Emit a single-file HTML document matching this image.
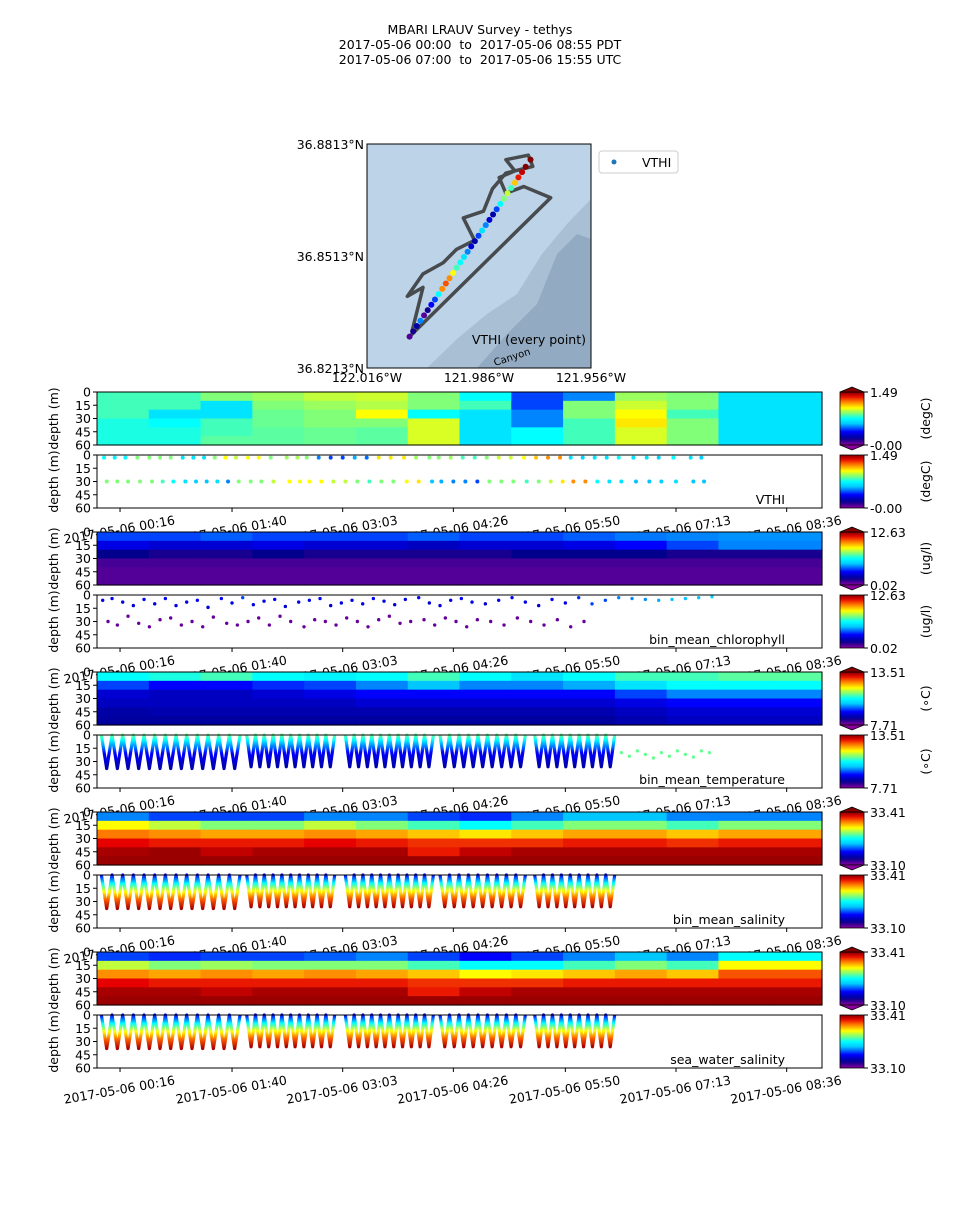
<!DOCTYPE html>
<html><head><meta charset="utf-8">
<style>
body{margin:0;background:#fff;}
svg text{font-family:"DejaVu Sans","Liberation Sans",sans-serif;fill:#000;}
</style></head>
<body>
<svg id="fig" width="960" height="1200" xmlns="http://www.w3.org/2000/svg">
<g>
<text x="480" y="34" font-size="12.5" text-anchor="middle">MBARI LRAUV Survey - tethys</text>
<text x="480" y="49" font-size="12.5" text-anchor="middle" xml:space="preserve">2017-05-06 00:00  to  2017-05-06 08:55 PDT</text>
<text x="480" y="64" font-size="12.5" text-anchor="middle" xml:space="preserve">2017-05-06 07:00  to  2017-05-06 15:55 UTC</text>
</g>
<g id="map"></g>
<g id="ticklabels"></g>
<g id="panels"></g>
</svg>
<script>
// ---------- data ----------
const timeTicks = [16, 100, 183, 266, 350, 433, 516];
const timeTickLabels = ["2017-05-06 00:16","2017-05-06 01:40","2017-05-06 03:03","2017-05-06 04:26","2017-05-06 05:50","2017-05-06 07:13","2017-05-06 08:36"];
const depthTicks = [0, 15, 30, 45, 60];
const variableNames = ["VTHI","bin_mean_chlorophyll","bin_mean_temperature","bin_mean_salinity","sea_water_salinity"];
const unitLabels = ["(degC)","(ug/l)","(\u2218C)","",""];
const cbarMax = ["1.49","12.63","13.51","33.41","33.41"];
const cbarMin = ["-0.00","0.02","7.71","33.10","33.10"];
const vthiField = [
 [0.55,0.55,0.6,0.62,0.65,0.66,0.6,0.5,0.3,0.35,0.62,0.6,0.45,0.45],
 [0.55,0.55,0.45,0.6,0.62,0.64,0.6,0.55,0.3,0.6,0.66,0.6,0.45,0.45],
 [0.55,0.45,0.45,0.58,0.6,0.7,0.5,0.45,0.35,0.6,0.7,0.55,0.45,0.45],
 [0.52,0.5,0.55,0.58,0.6,0.6,0.67,0.45,0.35,0.55,0.72,0.6,0.45,0.45],
 [0.52,0.52,0.55,0.57,0.58,0.57,0.67,0.45,0.5,0.55,0.67,0.6,0.45,0.45],
 [0.52,0.52,0.57,0.57,0.58,0.57,0.67,0.45,0.5,0.55,0.67,0.6,0.45,0.45]];
const chlField = [
 [0.3,0.3,0.32,0.3,0.3,0.3,0.32,0.3,0.3,0.32,0.34,0.35,0.36,0.36],
 [0.22,0.2,0.2,0.22,0.2,0.2,0.18,0.2,0.2,0.22,0.25,0.3,0.35,0.35],
 [0.12,0.1,0.1,0.12,0.1,0.1,0.1,0.1,0.12,0.12,0.12,0.1,0.1,0.1],
 [0.06,0.06,0.06,0.06,0.06,0.06,0.06,0.06,0.06,0.06,0.06,0.06,0.06,0.06],
 [0.05,0.05,0.05,0.05,0.05,0.05,0.05,0.05,0.05,0.05,0.05,0.05,0.05,0.05],
 [0.05,0.05,0.05,0.05,0.05,0.05,0.05,0.05,0.05,0.05,0.05,0.05,0.05,0.05]];
const tempField = [
 [0.5,0.52,0.55,0.5,0.48,0.5,0.55,0.5,0.45,0.5,0.55,0.55,0.57,0.57],
 [0.3,0.25,0.25,0.28,0.3,0.35,0.4,0.35,0.35,0.38,0.45,0.5,0.5,0.5],
 [0.2,0.18,0.18,0.2,0.22,0.25,0.25,0.25,0.25,0.25,0.3,0.35,0.35,0.35],
 [0.18,0.18,0.18,0.18,0.18,0.2,0.2,0.2,0.2,0.2,0.22,0.25,0.25,0.25],
 [0.15,0.16,0.16,0.16,0.16,0.16,0.16,0.16,0.16,0.16,0.18,0.2,0.2,0.2],
 [0.14,0.14,0.14,0.14,0.14,0.14,0.14,0.14,0.14,0.14,0.16,0.18,0.18,0.18]];
const salField = [
 [0.35,0.3,0.3,0.3,0.35,0.35,0.3,0.28,0.35,0.4,0.4,0.35,0.35,0.35],
 [0.7,0.65,0.6,0.6,0.65,0.6,0.55,0.5,0.55,0.6,0.6,0.55,0.6,0.6],
 [0.82,0.8,0.78,0.78,0.8,0.78,0.75,0.72,0.75,0.78,0.78,0.75,0.78,0.78],
 [0.92,0.9,0.9,0.9,0.92,0.9,0.88,0.88,0.88,0.9,0.9,0.88,0.9,0.9],
 [0.97,0.98,0.95,0.97,0.97,0.97,0.9,0.95,0.97,0.97,0.97,0.97,0.97,0.97],
 [0.98,0.98,0.98,0.98,0.98,0.98,0.98,0.98,0.98,0.98,0.98,0.98,0.98,0.98]];
const seaSalField = [
 [0.3,0.28,0.3,0.3,0.32,0.35,0.3,0.25,0.3,0.35,0.4,0.35,0.5,0.5],
 [0.65,0.6,0.62,0.6,0.6,0.6,0.55,0.5,0.5,0.55,0.6,0.55,0.7,0.7],
 [0.8,0.78,0.8,0.78,0.8,0.78,0.75,0.7,0.72,0.75,0.78,0.75,0.85,0.85],
 [0.92,0.9,0.9,0.9,0.9,0.9,0.88,0.88,0.88,0.9,0.9,0.9,0.9,0.9],
 [0.97,0.97,0.95,0.97,0.97,0.97,0.9,0.95,0.97,0.97,0.97,0.97,0.97,0.97],
 [0.98,0.98,0.98,0.98,0.98,0.98,0.98,0.98,0.98,0.98,0.98,0.98,0.98,0.98]];
const vthiTimes = [4,12,20,29,38,46,54,63,71,79,87,95,103,112,120,129,141,149,156,165,174,183,192,201,210,219,229,238,248,255,264,273,282,291,300,309,319,328,337,346,354,363,372,381,390,401,411,420,431,444,452];
const vthiShallow = [0.5,0.48,0.5,0.6,0.6,0.6,0.6,0.45,0.45,0.45,0.6,0.7,0.65,0.7,0.7,0.6,0.62,0.63,0.6,0.35,0.3,0.3,0.38,0.33,0.72,0.72,0.72,0.62,0.6,0.6,0.62,0.55,0.55,0.6,0.66,0.66,0.7,0.75,0.8,0.8,0.45,0.42,0.45,0.45,0.5,0.45,0.45,0.42,0.5,0.45,0.42];
const vthiDeep = [0.6,0.6,0.6,0.6,0.6,0.55,0.5,0.45,0.42,0.4,0.45,0.35,0.6,0.6,0.6,0.65,0.7,0.7,0.7,0.7,0.65,0.65,0.6,0.55,0.6,0.6,0.7,0.72,0.4,0.38,0.35,0.35,0.3,0.6,0.6,0.6,0.55,0.6,0.65,0.72,0.8,0.8,0.5,0.45,0.45,0.4,0.4,0.42,0.45,0.4,0.4];
const chlTimes = [3,10,18,26,34,42,50,58,66,74,82,92,100,108,116,124,132,140,150,158,166,174,182,190,198,206,214,222,230,240,248,256,264,272,280,290,300,310,320,330,340,350,360,370,380,390,400,410,420,430,440,450,460];
const chlUpperDepth = [6,4,8,12,5,10,4,12,8,6,14,4,9,3,11,7,5,13,8,6,4,12,9,6,10,4,7,11,5,3,9,12,6,4,8,10,6,3,8,12,5,9,3,10,6,3,4,5,6,5,4,3,2];
const chlUpperVal = [0.22,0.24,0.22,0.2,0.25,0.22,0.25,0.22,0.22,0.25,0.2,0.25,0.22,0.3,0.22,0.22,0.25,0.2,0.22,0.22,0.25,0.2,0.22,0.22,0.22,0.25,0.22,0.2,0.22,0.25,0.2,0.2,0.22,0.25,0.22,0.2,0.22,0.25,0.22,0.2,0.25,0.22,0.28,0.3,0.3,0.35,0.35,0.36,0.38,0.4,0.4,0.4,0.42];
const chlLowerDepth = [30,34,24,32,36,28,26,34,30,36,25,32,34,30,26,34,24,30,36,28,30,34,26,30,36,28,24,32,30,28,34,26,30,36,28,30,34,26,30,34,28,36,30,0,0,0,0,0,0,0,0,0,0];
const profStart = [2,111,185,256,327];
const profEnd = [106,177,251,320,387];
const profCount = [13,10,10,9,9];
const profMaxDepth = [38,36,36,36,36];
const tempExtraTimes = [392,398,404,410,416,422,428,434,440,446,452,458];
const tempExtraDepth = [20,24,18,22,26,20,24,18,22,25,18,20];
const trackX = [0.19,0.82,0.7,0.62,0.59,0.66,0.62,0.72,0.74,0.62,0.56,0.52,0.43,0.48,0.4,0.34,0.25,0.18,0.25,0.2];
const trackY = [0.86,0.24,0.19,0.22,0.15,0.12,0.07,0.05,0.1,0.13,0.2,0.3,0.33,0.43,0.47,0.53,0.58,0.68,0.64,0.84];
const mapDotT = [0,0.03,0.06,0.09,0.12,0.15,0.18,0.21,0.24,0.27,0.3,0.33,0.36,0.39,0.42,0.45,0.48,0.51,0.54,0.57,0.6,0.63,0.66,0.69,0.72,0.75,0.78,0.81,0.84,0.87,0.9,0.93,0.96,1.0];
const mapDotVal = [0.05,0.1,0.15,0.35,0.05,0.1,0.25,0.3,0.5,0.8,0.85,0.8,0.7,0.55,0.5,0.45,0.35,0.2,0.15,0.3,0.45,0.35,0.2,0.15,0.3,0.5,0.6,0.65,0.55,0.75,0.9,0.95,1.0,1.0];

// ---------- helpers ----------
const NS="http://www.w3.org/2000/svg";
function mk(tag,attrs,parent){const e=document.createElementNS(NS,tag);for(const k in attrs)e.setAttribute(k,attrs[k]);parent.appendChild(e);return e;}
const X0=97, X1=822;
function xScale(t){return 98.7+t*1.3333;}
const PH=53;
function cmap(v){
 const stops=[[0,[140,0,160]],[0.12,[0,0,140]],[0.25,[0,0,255]],[0.4,[0,200,255]],[0.5,[0,255,255]],[0.6,[130,255,120]],[0.7,[255,255,0]],[0.82,[255,120,0]],[0.92,[230,0,0]],[1,[130,0,0]]];
 v=Math.max(0,Math.min(1,v));
 for(let i=1;i<stops.length;i++){if(v<=stops[i][0]){const a=stops[i-1],b=stops[i];const f=(v-a[0])/(b[0]-a[0]);const c=a[1].map((x,j)=>Math.round(x+(b[1][j]-x)*f));return `rgb(${c[0]},${c[1]},${c[2]})`;}}
 return "rgb(130,0,0)";
}
const svg=document.getElementById('fig');
const root=document.getElementById('panels');
const tickRoot=document.getElementById('ticklabels');
const defs=mk('defs',{},svg);
const cg=mk('linearGradient',{id:'cbg',x1:0,y1:1,x2:0,y2:0},defs);
for(let i=0;i<=20;i++){mk('stop',{offset:i/20,'stop-color':cmap(i/20)},cg);}
const tg=mk('linearGradient',{id:'tempg',x1:0,y1:0,x2:0,y2:1},defs);
[[0,0.58],[0.15,0.5],[0.35,0.35],[0.55,0.25],[1,0.15]].forEach(s=>mk('stop',{offset:s[0],'stop-color':cmap(s[1])},tg));
const sg=mk('linearGradient',{id:'salg',x1:0,y1:0,x2:0,y2:1},defs);
[[0,0.25],[0.25,0.5],[0.5,0.7],[0.75,0.85],[1,0.97]].forEach(s=>mk('stop',{offset:s[0],'stop-color':cmap(s[1])},sg));
const clip=mk('clipPath',{id:'plotclip'},defs);
mk('rect',{x:X0,y:0,width:X1-X0,height:1200},clip);

const panelTops=[392,455,532,595,672,735,812,875,952,1015];
const fields=[vthiField,chlField,tempField,salField,seaSalField];
function yScale(top,d){return top+d/60*PH;}

function drawAxes(g,top,idx,isScatter){
 mk('rect',{x:X0,y:top,width:X1-X0,height:PH,fill:'none',stroke:'#000','stroke-width':1},g);
 depthTicks.forEach(d=>{
  const y=yScale(top,d);
  mk('line',{x1:X0-4,x2:X0,y1:y,y2:y,stroke:'#000'},g);
  const t=mk('text',{x:X0-6,y:y+4.5,'font-size':12.5,'text-anchor':'end'},g);t.textContent=d;
  
  
 });
 const yl=mk('text',{x:0,y:0,'font-size':12.5,'text-anchor':'middle',transform:`translate(58,${top+PH/2}) rotate(-90)`},g);
 yl.textContent='depth (m)';
 
 
 if(isScatter){
  timeTicks.forEach((t,i)=>{
   const x=xScale(t);
   mk('line',{x1:x,x2:x,y1:top+PH,y2:top+PH+4,stroke:'#000'},g);
   const lab=mk('text',{x:0,y:0,'font-size':12.5,'text-anchor':'middle',transform:`translate(${x},${top+PH+26}) rotate(-10)`},tickRoot);
   lab.textContent=timeTickLabels[i];
   
   
  });
 }
}
function drawColorbar(g,top,idx,extend){
 const cx=840,w=24;
 mk('rect',{x:cx,y:top,width:w,height:PH,fill:'url(#cbg)',stroke:'#000','stroke-width':0.8},g);
 if(extend){
  mk('path',{d:`M${cx} ${top} L${cx+w/2} ${top-5} L${cx+w} ${top} Z`,fill:cmap(1),stroke:'#000','stroke-width':0.8},g);
  mk('path',{d:`M${cx} ${top+PH} L${cx+w/2} ${top+PH+5} L${cx+w} ${top+PH} Z`,fill:cmap(0),stroke:'#000','stroke-width':0.8},g);
 }
 mk('line',{x1:cx+w,x2:cx+w+4,y1:top,y2:top,stroke:'#000'},g);
 mk('line',{x1:cx+w,x2:cx+w+4,y1:top+PH,y2:top+PH,stroke:'#000'},g);
 const a=mk('text',{x:cx+w+6,y:top+5,'font-size':12.5},g);a.textContent=cbarMax[idx];
 
 const b=mk('text',{x:cx+w+6,y:top+PH+5,'font-size':12.5},g);b.textContent=cbarMin[idx];
 
 if(unitLabels[idx]){
  const u=mk('text',{x:0,y:0,'font-size':12.5,'text-anchor':'middle',transform:`translate(930,${top+PH/2}) rotate(-90)`},g);
  u.textContent=unitLabels[idx];
  
 }
}

for(let i=0;i<5;i++){
 const top=panelTops[2*i];
 const g=mk('g',{},root);
 
 
 const f=fields[i];
 const nC=f[0].length,nR=f.length;
 const cw=(X1-X0)/nC, rh=PH/nR;
 for(let r=0;r<nR;r++)for(let c=0;c<nC;c++){
  const cell=mk('rect',{x:X0+c*cw,y:top+r*rh,width:cw+0.6,height:rh+0.6,fill:cmap(f[r][c])},g);
  
  
 }
 drawAxes(g,top,i,false);
 drawColorbar(g,top,i,true);
 const top2=panelTops[2*i+1];
 const g2=mk('g',{},root);
 
 
 mk('rect',{x:X0,y:top2,width:X1-X0,height:PH,fill:'#fff'},g2);
 const dots=mk('g',{'clip-path':'url(#plotclip)'},g2);
 if(i===0){
  vthiTimes.forEach((t,k)=>{
   const d1=mk('circle',{cx:xScale(t),cy:yScale(top2,3),r:2,fill:cmap(vthiShallow[k])},dots);
   
   const d2=mk('circle',{cx:xScale(t+2),cy:yScale(top2,30),r:2,fill:cmap(vthiDeep[k])},dots);
   
  });
 } else if(i===1){
  chlTimes.forEach((t,k)=>{
   const d1=mk('circle',{cx:xScale(t),cy:yScale(top2,chlUpperDepth[k]),r:1.7,fill:cmap(chlUpperVal[k])},dots);
   
   if(chlLowerDepth[k]>0){
    const d2=mk('circle',{cx:xScale(t+4),cy:yScale(top2,chlLowerDepth[k]),r:1.7,fill:cmap(0.03)},dots);
    
   }
  });
 } else {
  const grad = i===2?'url(#tempg)':'url(#salg)';
  profStart.forEach((s,k)=>{
   const n=profCount[k], dur=(profEnd[k]-s)/n;
   let pts=[];
   for(let p=0;p<n;p++){
    const t0=s+p*dur;
    pts.push(`${xScale(t0)},${yScale(top2,0)}`);
    pts.push(`${xScale(t0+dur/2)},${yScale(top2,profMaxDepth[k])}`);
   }
   pts.push(`${xScale(profEnd[k])},${yScale(top2,0)}`);
   const pl=mk('polyline',{points:pts.join(' '),fill:'none',stroke:grad,'stroke-width':3.2,'stroke-linejoin':'round'},dots);
   
  });
  if(i===2){
   tempExtraTimes.forEach((t,k)=>{
    const d=mk('circle',{cx:xScale(t),cy:yScale(top2,tempExtraDepth[k]),r:1.7,fill:cmap(0.58)},dots);
    
   });
  }
 }
 drawAxes(g2,top2,i,true);
 drawColorbar(g2,top2,i,false);
 const nm=mk('text',{x:785,y:top2+49,'font-size':12.5,'text-anchor':'end'},g2);
 nm.textContent=variableNames[i];
 
 
}
// ---------- map ----------
const map=document.getElementById('map');
const MX=367,MY=144,MW=224,MH=224;
mk('rect',{x:MX,y:MY,width:MW,height:MH,fill:'#bdd3e8'},map);
mk('path',{d:`M${MX+60} ${MY+224} L${MX+90} ${MY+195} L${MX+120} ${MY+170} L${MX+150} ${MY+150} L${MX+175} ${MY+110} L${MX+200} ${MY+80} L${MX+224} ${MY+55} L${MX+224} ${MY+224} Z`,fill:'#a9bfd4'},map);
mk('path',{d:`M${MX+110} ${MY+224} L${MX+140} ${MY+190} L${MX+170} ${MY+160} L${MX+190} ${MY+110} L${MX+210} ${MY+90} L${MX+224} ${MY+95} L${MX+224} ${MY+224} Z`,fill:'#93abc2'},map);
const tp=trackX.map((x,k)=>`${MX+x*MW},${MY+trackY[k]*MH}`).join(' ');
const trk=mk('polyline',{points:tp,fill:'none',stroke:'#333','stroke-width':3.5,'stroke-linejoin':'round',opacity:0.85},map);

const ax0=MX+0.19*MW, ay0=MY+0.86*MH, ax1=MX+0.73*MW, ay1=MY+0.07*MH;
mapDotT.forEach((t,k)=>{
 const d=mk('circle',{cx:ax0+(ax1-ax0)*t,cy:ay0+(ay1-ay0)*t,r:3,fill:cmap(mapDotVal[k])},map);
 
});
mk('rect',{x:MX,y:MY,width:MW,height:MH,fill:'none',stroke:'#000'},map);
const ml=mk('text',{x:MX+219,y:MY+200,'font-size':12.5,'text-anchor':'end'},map);ml.textContent='VTHI (every point)';
const cn=mk('text',{x:0,y:0,'font-size':10,fill:'#555',transform:`translate(${MX+128},${MY+222}) rotate(-18)`},map);cn.textContent='Canyon';
[["36.8813°N",MY],["36.8513°N",MY+112],["36.8213°N",MY+224]].forEach(a=>{const t=mk('text',{x:MX-3,y:a[1]+5,'font-size':12.5,'text-anchor':'end'},map);t.textContent=a[0];});
[["122.016°W",MX],["121.986°W",MX+112],["121.956°W",MX+224]].forEach(a=>{const t=mk('text',{x:a[1],y:MY+238,'font-size':12.5,'text-anchor':'middle'},map);t.textContent=a[0];});
const lg=mk('g',{},map);

mk('rect',{x:599,y:151,width:79,height:22,rx:3,fill:'#fff',stroke:'#ccc'},lg);
mk('circle',{cx:614,cy:162,r:2.5,fill:'#1f77b4'},lg);
const lt=mk('text',{x:642,y:167,'font-size':12.5},lg);lt.textContent='VTHI';
</script>
</body></html>
